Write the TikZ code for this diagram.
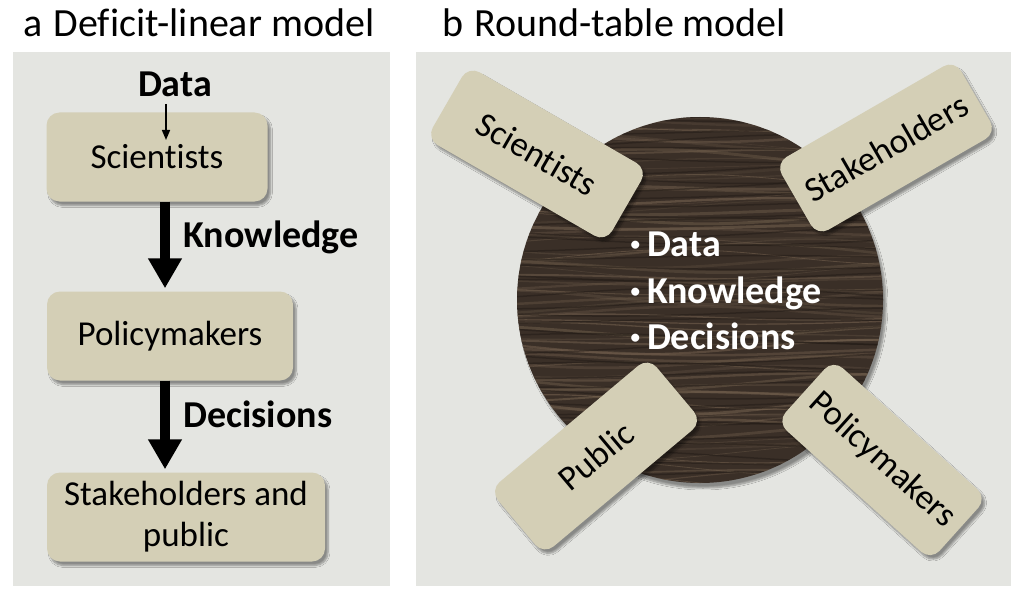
\documentclass[tikz,border=0pt]{standalone}
\usepackage{fontspec}
\usepackage{graphicx}
\setmainfont[Ligatures=NoCommon]{Carlito}
\usetikzlibrary{arrows.meta,shadows.blur}

\definecolor{panelgray}{RGB}{228,229,225}
\definecolor{cardtan}{RGB}{212,207,182}
\definecolor{wood}{RGB}{58,47,39}
\definecolor{woodlight}{RGB}{118,99,80}
\definecolor{wooddark}{RGB}{34,27,22}

\newcommand\boxfont{\fontsize{35}{41}\selectfont}
\newcommand\labelfont{\fontsize{38}{44}\selectfont\bfseries}
\newcommand\titlefont{\fontsize{40}{46}\selectfont}
\newcommand\tabledot{\raisebox{6pt}{\scalebox{0.5}{\textbullet}}\hspace{7pt}}

\tikzset{
  card/.style={fill=cardtan, rounded corners=13pt, inner sep=0pt, minimum height=89pt, font=\boxfont,
    blur shadow={shadow xshift=3pt, shadow yshift=-4pt, shadow blur steps=6}},
  tag/.style={card, minimum width=207pt, minimum height=84pt},
  flowlabel/.style={font=\labelfont, anchor=base west},
  bigarrow/.style={line width=10pt, -{Triangle[width=32pt,length=30pt]}, shorten >=3pt},
  thinarrow/.style={line width=1.5pt, -{Triangle[width=8pt,length=10pt]}, shorten <=3pt},
  point/.style={font=\labelfont, text=white, anchor=base west},
}

\begin{document}
\begin{tikzpicture}[x=1pt,y=-1pt]
    \useasboundingbox (0,0) rectangle (1024,596);
    \fill[white] (0,0) rectangle (1024,596);

    \fill[panelgray] (13,52) rectangle (390,586);
    \fill[panelgray] (416,52) rectangle (1011,586);

    \node[font=\titlefont, anchor=base west] (ta) at (20,37) {a\hspace{11pt}Deficit-linear model};
    \node[font=\titlefont, anchor=base west] (tb) at (439,37) {b\hspace{11pt}Round-table model};

    % a: deficit-linear
    \node[card, minimum width=221pt] (sci) at (157,157) {Scientists};
    \node[card, minimum width=246pt] (pol) at (170,336) {Policymakers};
    \node[card, minimum width=278pt, align=center] (stk) at (186,517) {Stakeholders and\\public};

    \coordinate (spine) at (165,0);
    \coordinate (datatip) at (166,140);
    \node[font=\labelfont, anchor=base] (data) at (175,97) {Data};
    \draw[thinarrow] (data.south -| datatip) -- (datatip);

    \draw[bigarrow] (sci.south -| spine) -- (pol.north -| spine);
    \node[flowlabel] (know) at (180,247) {Knowledge};

    \draw[bigarrow] (pol.south -| spine) -- (stk.north -| spine);
    \node[flowlabel] (deci) at (180,427) {Decisions};

    % b: round table
    \node[circle, fill=wood, minimum size=366pt, inner sep=0pt,
      blur shadow={shadow xshift=3pt, shadow yshift=-5pt, shadow blur steps=8}] (table) at (700,300) {};
    \begin{scope}
        \clip (700,300) circle[radius=183pt];
        \pgfmathsetseed{17}
        \foreach \k in {0,...,75}{
            \pgfmathsetmacro{\yy}{112+5*\k}
            \pgfmathsetmacro{\ph}{360*rnd}
            \pgfmathsetmacro{\amp}{2+6*rnd}
            \pgfmathsetmacro{\op}{0.15+0.45*rnd}
            \pgfmathsetmacro{\lw}{0.6+2.4*rnd}
            \draw[woodlight, opacity=\op, line width=\lw pt]
                plot[domain=510:890, samples=30, smooth] (\x, {\yy+\amp*sin(0.8*\x+\ph)});
        }
        \foreach \k in {0,...,40}{
            \pgfmathsetmacro{\yy}{114+9*\k}
            \pgfmathsetmacro{\ph}{360*rnd}
            \pgfmathsetmacro{\amp}{2+5*rnd}
            \draw[wooddark, opacity=0.5, line width=1.5pt]
                plot[domain=510:890, samples=30, smooth] (\x, {\yy+\amp*sin(0.6*\x+\ph)});
        }
    \end{scope}

    \node[point] (p1) at (627,256) {\tabledot Data};
    \node[point] (p2) at (627,303) {\tabledot Knowledge};
    \node[point] (p3) at (627,349) {\tabledot Decisions};

    \node[tag, rotate=-30] (rsci) at (537,154) {Scientists};
    \node[tag, rotate=30] (rstk) at (886,148) {Stakeholders};
    \node[tag, rotate=40] (rpub) at (596,456) {Public};
    \node[tag, rotate=-42] (rpol) at (882,460) {Policymakers};

\end{tikzpicture}
\end{document}
